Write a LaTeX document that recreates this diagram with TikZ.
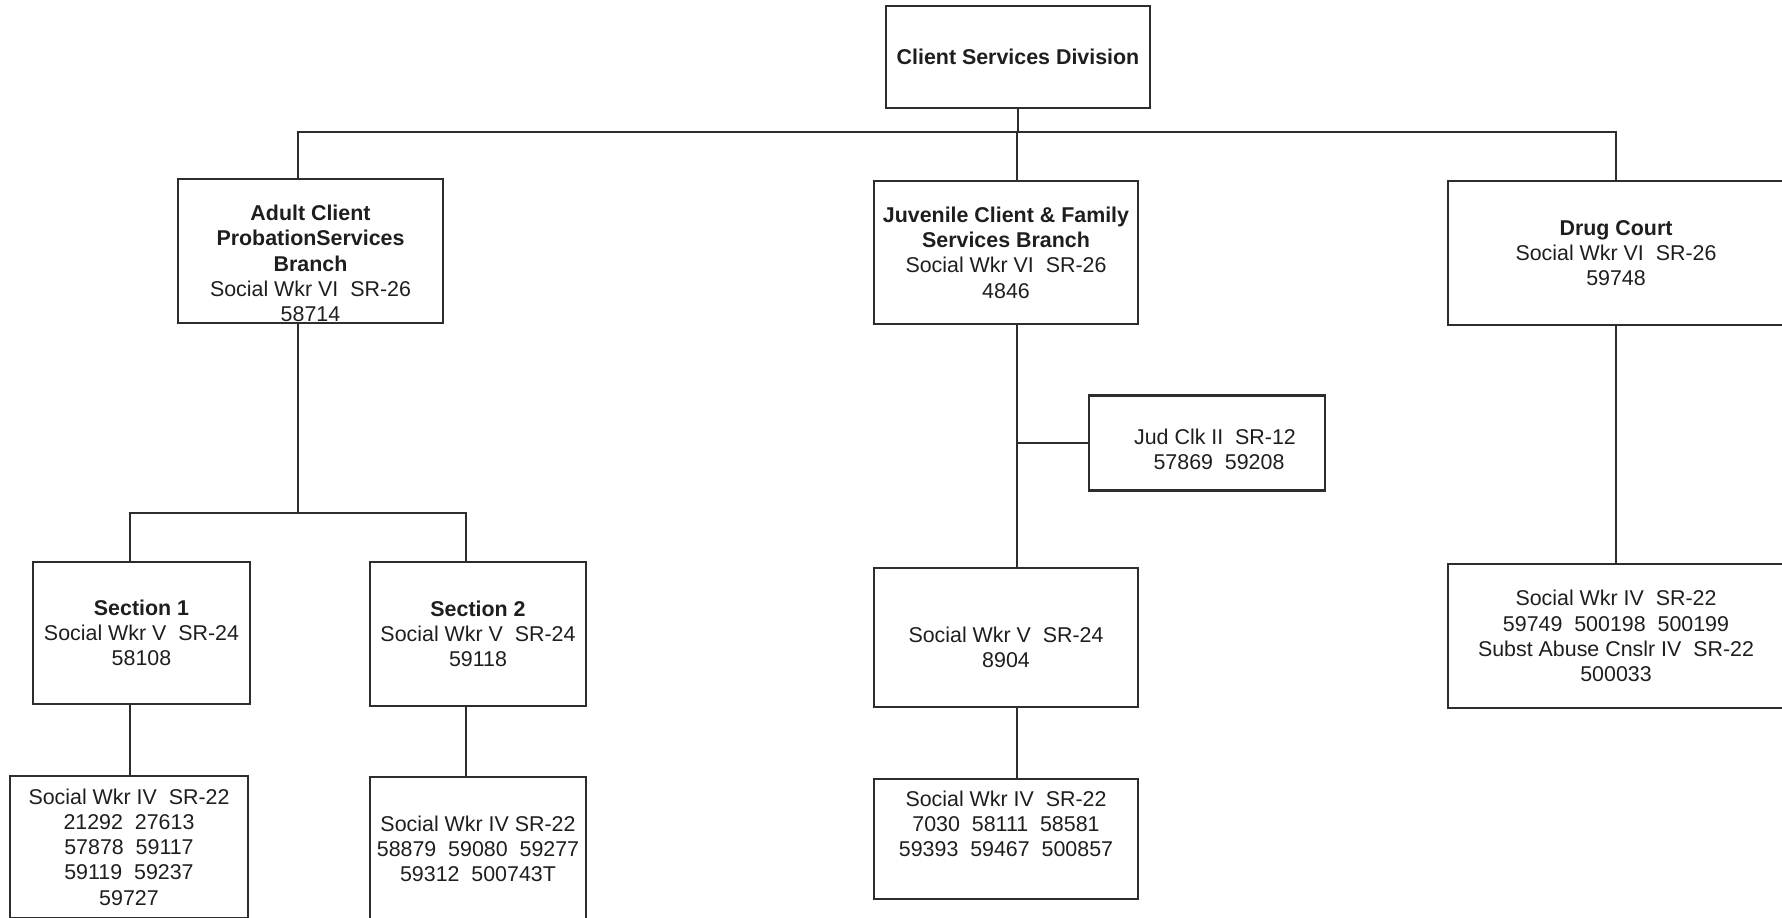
\documentclass[tikz,border=0pt]{standalone}
\usepackage{fontspec}
\setmainfont{Liberation Sans}
\usepackage{tikz}
\usetikzlibrary{positioning,calc}
\definecolor{inkgray}{RGB}{45,45,45}
\definecolor{textgray}{RGB}{30,30,30}
\tikzset{
  boxtext/.style={align=center,inner sep=0pt,text=textgray,font=\fontsize{10.7pt}{12.65pt}\selectfont},
  orgbox/.style={boxtext,rectangle,draw=inkgray,line width=1.1pt},
  headbox/.style={orgbox,font=\fontsize{10.7pt}{12.65pt}\selectfont\bfseries},
  link/.style={draw=inkgray,line width=0.9pt}
}
\newcommand{\hd}[1]{\textbf{#1}}

\begin{document}
\begin{tikzpicture}[x=0.5pt,y=-0.5pt]
  \useasboundingbox (0,0) rectangle (1782,917);
  \clip (0,0) rectangle (1782,917);

  % division head
  \node[headbox,minimum width=132pt,minimum height=51pt] (csd) at (1018,57) {Client Services Division};

  % branches
  \node[orgbox,minimum width=132.5pt,minimum height=72pt] (adult) at (310.5,251) {};
  \node[boxtext] (adultText) at ([yshift=-6.2pt]adult.center)
    {\hd{Adult Client}\\\hd{ProbationServices}\\\hd{Branch}\\Social Wkr VI~~SR-26\\58714};
  \node[orgbox,minimum width=132pt,minimum height=71.5pt] (juv) at (1006,252.5)
    {\hd{Juvenile Client \& Family}\\\hd{Services Branch}\\Social Wkr VI~~SR-26\\4846};
  \node[orgbox,minimum width=168pt,minimum height=72pt] (drug) at (1616,253)
    {\hd{Drug Court}\\Social Wkr VI~~SR-26\\59748};

  % adult sections
  \node[orgbox,minimum width=108.5pt,minimum height=71pt] (sec1) at (141.5,633)
    {\hd{Section 1}\\Social Wkr V~~SR-24\\58108};
  \node[orgbox,minimum width=108pt,minimum height=72pt] (sec2) at (478,634)
    {\hd{Section 2}\\Social Wkr V~~SR-24\\59118};
  \node[orgbox,minimum width=119pt,minimum height=71pt] (sec1sw) at (129,847)
    {Social Wkr IV~~SR-22\\21292~~27613\\57878~~59117\\59119~~59237\\59727};
  \node[orgbox,minimum width=108pt,minimum height=72pt] (sec2sw) at (478,849)
    {Social Wkr IV SR-22\\58879~~59080~~59277\\59312~~500743T};

  % juvenile units
  \node[orgbox,minimum width=118pt,minimum height=47.5pt] (judclk) at (1207,443) {};
  \node[boxtext] (judclkText) at ([xshift=4pt,yshift=-3.2pt]judclk.center)
    {Jud Clk II~~SR-12\\\hspace*{4pt}57869~~59208};
  \node[orgbox,minimum width=132pt,minimum height=69.5pt] (juvsw) at (1006,637.5)
    {\strut\\Social Wkr V~~SR-24\\8904\strut};
  \node[orgbox,minimum width=132pt,minimum height=60pt] (juvbot) at (1006,839)
    {\strut Social Wkr IV~~SR-22\\7030~~58111~~58581\\59393~~59467~~500857\\\strut};

  % drug court staff
  \node[orgbox,minimum width=168pt,minimum height=72pt] (drugsw) at (1616,636)
    {Social Wkr IV~~SR-22\\59749~~500198~~500199\\Subst Abuse Cnslr IV~~SR-22\\500033};

  \coordinate (bus) at (0,132);
  \coordinate (secbus) at (0,513);

  % top level
  \draw[link] (csd.south) -- (csd.south |- bus);
  \draw[link] ([xshift=-6.25pt]adult.north) |- (drug.north |- bus) -- (drug.north);
  \draw[link] ([xshift=5.5pt]juv.north) -- ([xshift=5.5pt]juv.north |- bus);

  % adult branch
  \draw[link] ([xshift=-6.25pt]adult.south) -- ([xshift=-6.25pt]adult.south |- secbus);
  \draw[link] ([xshift=-5.75pt]sec1.north) |- ([xshift=-6pt]sec2.north |- secbus) -- ([xshift=-6pt]sec2.north);
  \draw[link] ([xshift=-5.75pt]sec1.south) -- ([xshift=-5.75pt]sec1.south |- sec1sw.north);
  \draw[link] ([xshift=-6pt]sec2.south) -- ([xshift=-6pt]sec2.south |- sec2sw.north);

  % juvenile branch
  \draw[link] ([xshift=5.5pt]juv.south) -- ([xshift=5.5pt]juv.south |- juvsw.north);
  \draw[link] ([xshift=5.5pt]juv.south |- judclk.west) -- (judclk.west);
  \draw[link] ([xshift=5.5pt]juvsw.south) -- ([xshift=5.5pt]juvsw.south |- juvbot.north);

  % drug court
  \draw[link] (drug.south) -- (drugsw.north);
\end{tikzpicture}
\end{document}
